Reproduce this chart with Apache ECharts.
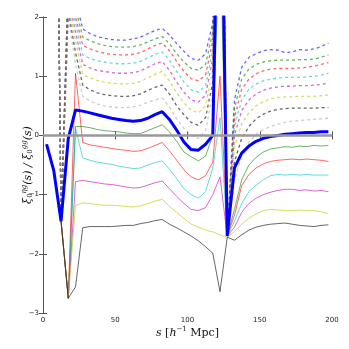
<!DOCTYPE html>
<html>
<head>
<meta charset="utf-8">
<script src="https://cdn.jsdelivr.net/npm/echarts@6/dist/echarts.min.js"></script>
<style>
  html, body { margin: 0; padding: 0; background: #fff; }
  #chart { width: 349px; height: 349px; }
</style>
</head>
<body>
<div id="chart"></div>
<script>
// separation bins (h^-1 Mpc)
const s = [2.5, 7.5, 12.5, 17.5, 22.5, 27.5, 32.5, 37.5, 42.5, 47.5,
  52.5, 57.5, 62.5, 67.5, 72.5, 77.5, 82.5, 87.5, 92.5, 97.5,
  102.5, 107.5, 112.5, 117.5, 122.5, 127.5, 132.5, 137.5, 142.5, 147.5,
  152.5, 157.5, 162.5, 167.5, 172.5, 177.5, 182.5, 187.5, 192.5, 197.5];

const xTicks = [0, 50, 100, 150, 200];
const yTicks = [-3, -2, -1, 0, 1, 2];

// solid curves
const solidBlue = [-0.15, -0.6, -1.45, -0.05, 0.43, 0.41, 0.38, 0.35, 0.32, 0.29, 0.27, 0.25, 0.24, 0.25, 0.29, 0.35, 0.4, 0.27, 0.09, -0.11, -0.24, -0.25, -0.15, 0.0, 6.0, -1.7, -0.55, -0.3, -0.18, -0.1, -0.05, -0.02, 0.0, 0.02, 0.03, 0.04, 0.05, 0.05, 0.06, 0.06];
const solidGreen = [-0.15, -0.6, -1.45, -2.75, 0.15, 0.15, 0.13, 0.1, 0.08, 0.07, 0.06, 0.04, 0.03, 0.03, 0.08, 0.13, 0.18, 0.06, -0.1, -0.28, -0.36, -0.43, -0.35, 0.0, 3.5, -1.7, -1.25, -0.75, -0.5, -0.37, -0.28, -0.23, -0.21, -0.19, -0.2, -0.18, -0.19, -0.17, -0.18, -0.17];
const solidRed = [-0.15, -0.6, -1.45, -2.75, 1.05, -0.12, -0.16, -0.18, -0.2, -0.22, -0.24, -0.25, -0.27, -0.26, -0.22, -0.17, -0.12, -0.26, -0.42, -0.58, -0.7, -0.75, -0.68, -0.45, 1.0, -1.7, -1.35, -0.85, -0.66, -0.55, -0.48, -0.44, -0.42, -0.41, -0.4, -0.41, -0.4, -0.41, -0.42, -0.44];
const solidCyan = [-0.15, -0.6, -1.45, -2.75, 0.12, -0.38, -0.42, -0.45, -0.47, -0.49, -0.52, -0.54, -0.56, -0.55, -0.5, -0.46, -0.43, -0.57, -0.73, -0.9, -1.0, -1.06, -0.95, -0.55, 0.3, -1.7, -1.45, -1.15, -0.95, -0.84, -0.75, -0.68, -0.66, -0.67, -0.66, -0.67, -0.66, -0.67, -0.67, -0.67];
const solidMagenta = [-0.15, -0.6, -1.45, -2.75, -0.78, -0.76, -0.78, -0.8, -0.82, -0.83, -0.85, -0.87, -0.89, -0.88, -0.84, -0.8, -0.77, -0.9, -1.03, -1.15, -1.25, -1.27, -1.22, -1.0, -0.7, -1.7, -1.55, -1.3, -1.15, -1.06, -1.0, -0.96, -0.93, -0.91, -0.91, -0.93, -0.92, -0.94, -0.93, -0.95];
const solidYellow = [-0.15, -0.6, -1.45, -2.75, -1.18, -1.14, -1.15, -1.17, -1.18, -1.18, -1.19, -1.2, -1.21, -1.19, -1.15, -1.11, -1.08, -1.2, -1.3, -1.4, -1.5, -1.55, -1.6, -1.63, -1.68, -1.72, -1.62, -1.5, -1.4, -1.33, -1.27, -1.25, -1.26, -1.27, -1.27, -1.26, -1.27, -1.27, -1.29, -1.32];
const solidBlack = [-0.15, -0.6, -1.45, -2.75, -2.56, -1.56, -1.54, -1.54, -1.54, -1.54, -1.53, -1.52, -1.52, -1.49, -1.47, -1.44, -1.42, -1.5, -1.56, -1.63, -1.7, -1.78, -1.88, -1.99, -2.64, -1.72, -1.77, -1.68, -1.6, -1.55, -1.52, -1.5, -1.49, -1.48, -1.5, -1.52, -1.53, -1.54, -1.52, -1.51];

// dashed curves
const dashBlue = [8, 10, -1.45, 2.7, 2.3, 1.8, 1.72, 1.67, 1.64, 1.62, 1.61, 1.61, 1.63, 1.66, 1.72, 1.77, 1.81, 1.7, 1.55, 1.42, 1.3, 1.27, 1.38, 1.9, 8, -1.7, 0.6, 1.15, 1.32, 1.38, 1.43, 1.45, 1.44, 1.4, 1.41, 1.45, 1.44, 1.46, 1.5, 1.56];
const dashGreen = [8, 10, -1.45, 2.6, 2.15, 1.66, 1.6, 1.55, 1.52, 1.5, 1.49, 1.49, 1.5, 1.53, 1.58, 1.63, 1.67, 1.55, 1.38, 1.24, 1.13, 1.1, 1.2, 1.75, 8, -1.7, 0.45, 0.95, 1.12, 1.2, 1.24, 1.26, 1.27, 1.27, 1.27, 1.28, 1.28, 1.29, 1.32, 1.36];
const dashRed = [8, 10, -1.45, 2.5, 2.0, 1.52, 1.46, 1.42, 1.39, 1.37, 1.36, 1.36, 1.37, 1.4, 1.46, 1.52, 1.56, 1.43, 1.25, 1.08, 0.96, 0.92, 1.02, 1.6, 8, -1.7, 0.3, 0.78, 0.95, 1.04, 1.09, 1.12, 1.13, 1.13, 1.13, 1.14, 1.15, 1.17, 1.2, 1.23];
const dashCyan = [8, 10, -1.45, 2.4, 1.9, 1.36, 1.3, 1.26, 1.24, 1.22, 1.21, 1.21, 1.22, 1.25, 1.31, 1.37, 1.41, 1.27, 1.08, 0.9, 0.77, 0.73, 0.84, 1.45, 8, -1.7, 0.15, 0.6, 0.78, 0.87, 0.92, 0.95, 0.97, 0.98, 0.98, 0.98, 0.99, 1.0, 1.02, 1.05];
const dashMagenta = [8, 10, -1.45, 2.3, 1.75, 1.2, 1.14, 1.1, 1.08, 1.06, 1.05, 1.05, 1.06, 1.09, 1.15, 1.21, 1.25, 1.1, 0.9, 0.73, 0.6, 0.56, 0.68, 1.3, 8, -1.7, 0.0, 0.42, 0.6, 0.7, 0.76, 0.8, 0.82, 0.83, 0.83, 0.84, 0.84, 0.85, 0.86, 0.88];
const dashYellow = [8, 10, -1.45, 2.2, 1.6, 1.03, 0.97, 0.93, 0.9, 0.88, 0.87, 0.87, 0.88, 0.91, 0.97, 1.03, 1.08, 0.92, 0.72, 0.55, 0.43, 0.38, 0.5, 1.1, 8, -1.7, -0.2, 0.2, 0.38, 0.5, 0.57, 0.62, 0.64, 0.65, 0.65, 0.66, 0.66, 0.66, 0.67, 0.68];
const dashBlack = [8, 10, -1.45, 2.1, 1.4, 0.85, 0.77, 0.72, 0.69, 0.67, 0.66, 0.66, 0.67, 0.7, 0.76, 0.81, 0.85, 0.7, 0.5, 0.35, 0.22, 0.17, 0.3, 0.9, 8, -1.7, -0.45, -0.05, 0.15, 0.28, 0.36, 0.41, 0.44, 0.45, 0.46, 0.46, 0.46, 0.46, 0.47, 0.47];
const dashGrey = [8, 10, -1.45, 2.0, 1.2, 0.66, 0.58, 0.53, 0.5, 0.48, 0.47, 0.47, 0.48, 0.51, 0.56, 0.6, 0.63, 0.48, 0.28, 0.12, 0.0, -0.05, 0.08, 0.7, 8, -1.7, -0.75, -0.35, -0.12, 0.02, 0.1, 0.15, 0.19, 0.22, 0.24, 0.25, 0.26, 0.27, 0.28, 0.29];

const pair = (ys) => s.map((x, i) => [x, ys[i]]);

function dashed(ys, color) {
  return {
    type: 'line', data: pair(ys), showSymbol: false, z: 2,
    lineStyle: { color: color, width: 1.3, type: [3, 3], opacity: 0.6 }
  };
}
function solid(ys, color) {
  return {
    type: 'line', data: pair(ys), showSymbol: false, z: 3,
    lineStyle: { color: color, width: 1, opacity: 0.6 }
  };
}

const minus = (v) => String(v).replace('-', '\u2212');
const tickFont = { fontFamily: 'DejaVu Sans', fontSize: 7, color: '#222' };
const frame = { lineStyle: { color: '#555', width: 1 } };

const chart = echarts.init(document.getElementById('chart'));
chart.setOption({
  animation: false,
  backgroundColor: '#fff',
  grid: { left: 43, right: 17, top: 17, bottom: 36, outerBoundsMode: 'none' },
  xAxis: [
    {
      type: 'value', min: 0, max: 200, interval: 50,
      axisLine: frame,
      axisTick: { inside: true, length: 4, lineStyle: { color: '#555' } },
      axisLabel: Object.assign({ margin: 4 }, tickFont),
      splitLine: { show: false },
      name: '{i|s} [{i|h}{sup|\u22121} Mpc]',
      nameLocation: 'middle', nameGap: 13, nameMoveOverlap: false,
      nameTextStyle: {
        fontFamily: 'DejaVu Serif', fontSize: 11, color: '#111',
        rich: {
          i: { fontFamily: 'DejaVu Serif', fontStyle: 'italic', fontSize: 11 },
          sup: { fontFamily: 'DejaVu Serif', fontSize: 7, padding: [0, 0, 7, 0] }
        }
      }
    },
    {
      type: 'value', min: 0, max: 200, interval: 50, position: 'top',
      axisLine: frame,
      axisTick: { inside: true, length: 4, lineStyle: { color: '#555' } },
      axisLabel: { show: false }, splitLine: { show: false }
    }
  ],
  yAxis: [
    {
      type: 'value', min: -3, max: 2, interval: 1,
      axisLine: frame,
      axisTick: { inside: true, length: 4, lineStyle: { color: '#555' } },
      axisLabel: Object.assign({ margin: 4, formatter: minus }, tickFont),
      splitLine: { show: false },
      name: '{i|\u03be}{sub|0}{sup|\u03b7g}{i|(s) / \u03be}{sub|0}{sup|gg}{i|(s)}',
      nameLocation: 'middle', nameGap: 8, nameRotate: 90, nameMoveOverlap: false,
      nameTextStyle: {
        fontFamily: 'DejaVu Serif', fontSize: 11, color: '#111',
        rich: {
          i: { fontFamily: 'DejaVu Serif', fontStyle: 'italic', fontSize: 11 },
          sub: { fontFamily: 'DejaVu Serif', fontSize: 7, padding: [5, 0, 0, 0] },
          sup: { fontFamily: 'DejaVu Serif', fontStyle: 'italic', fontSize: 7, padding: [0, 0, 7, 0] }
        }
      }
    },
    {
      type: 'value', min: -3, max: 2, interval: 1, position: 'right',
      axisLine: frame,
      axisTick: { inside: true, length: 4, lineStyle: { color: '#555' } },
      axisLabel: { show: false }, splitLine: { show: false }
    }
  ],
  series: [
    dashed(dashBlue, '#0000ff'),
    dashed(dashGreen, '#008000'),
    dashed(dashRed, '#ff0000'),
    dashed(dashCyan, '#00bfbf'),
    dashed(dashMagenta, '#bf00bf'),
    dashed(dashYellow, '#bfbf00'),
    dashed(dashBlack, '#000000'),
    dashed(dashGrey, '#aaaaaa'),
    {
      type: 'line', data: [], z: 3, silent: true,
      markLine: {
        symbol: 'none', silent: true, label: { show: false },
        lineStyle: { color: '#999', width: 2.5, type: 'solid' },
        data: [{ yAxis: 0 }]
      }
    },
    solid(solidGreen, '#008000'),
    solid(solidRed, '#ff0000'),
    solid(solidCyan, '#00bfbf'),
    solid(solidMagenta, '#bf00bf'),
    solid(solidYellow, '#bfbf00'),
    solid(solidBlack, '#000000'),
    {
      type: 'line', data: pair(solidBlue), showSymbol: false, z: 4,
      lineStyle: { color: '#0000ff', width: 3 }
    }
  ]
});
</script>
</body>
</html>
